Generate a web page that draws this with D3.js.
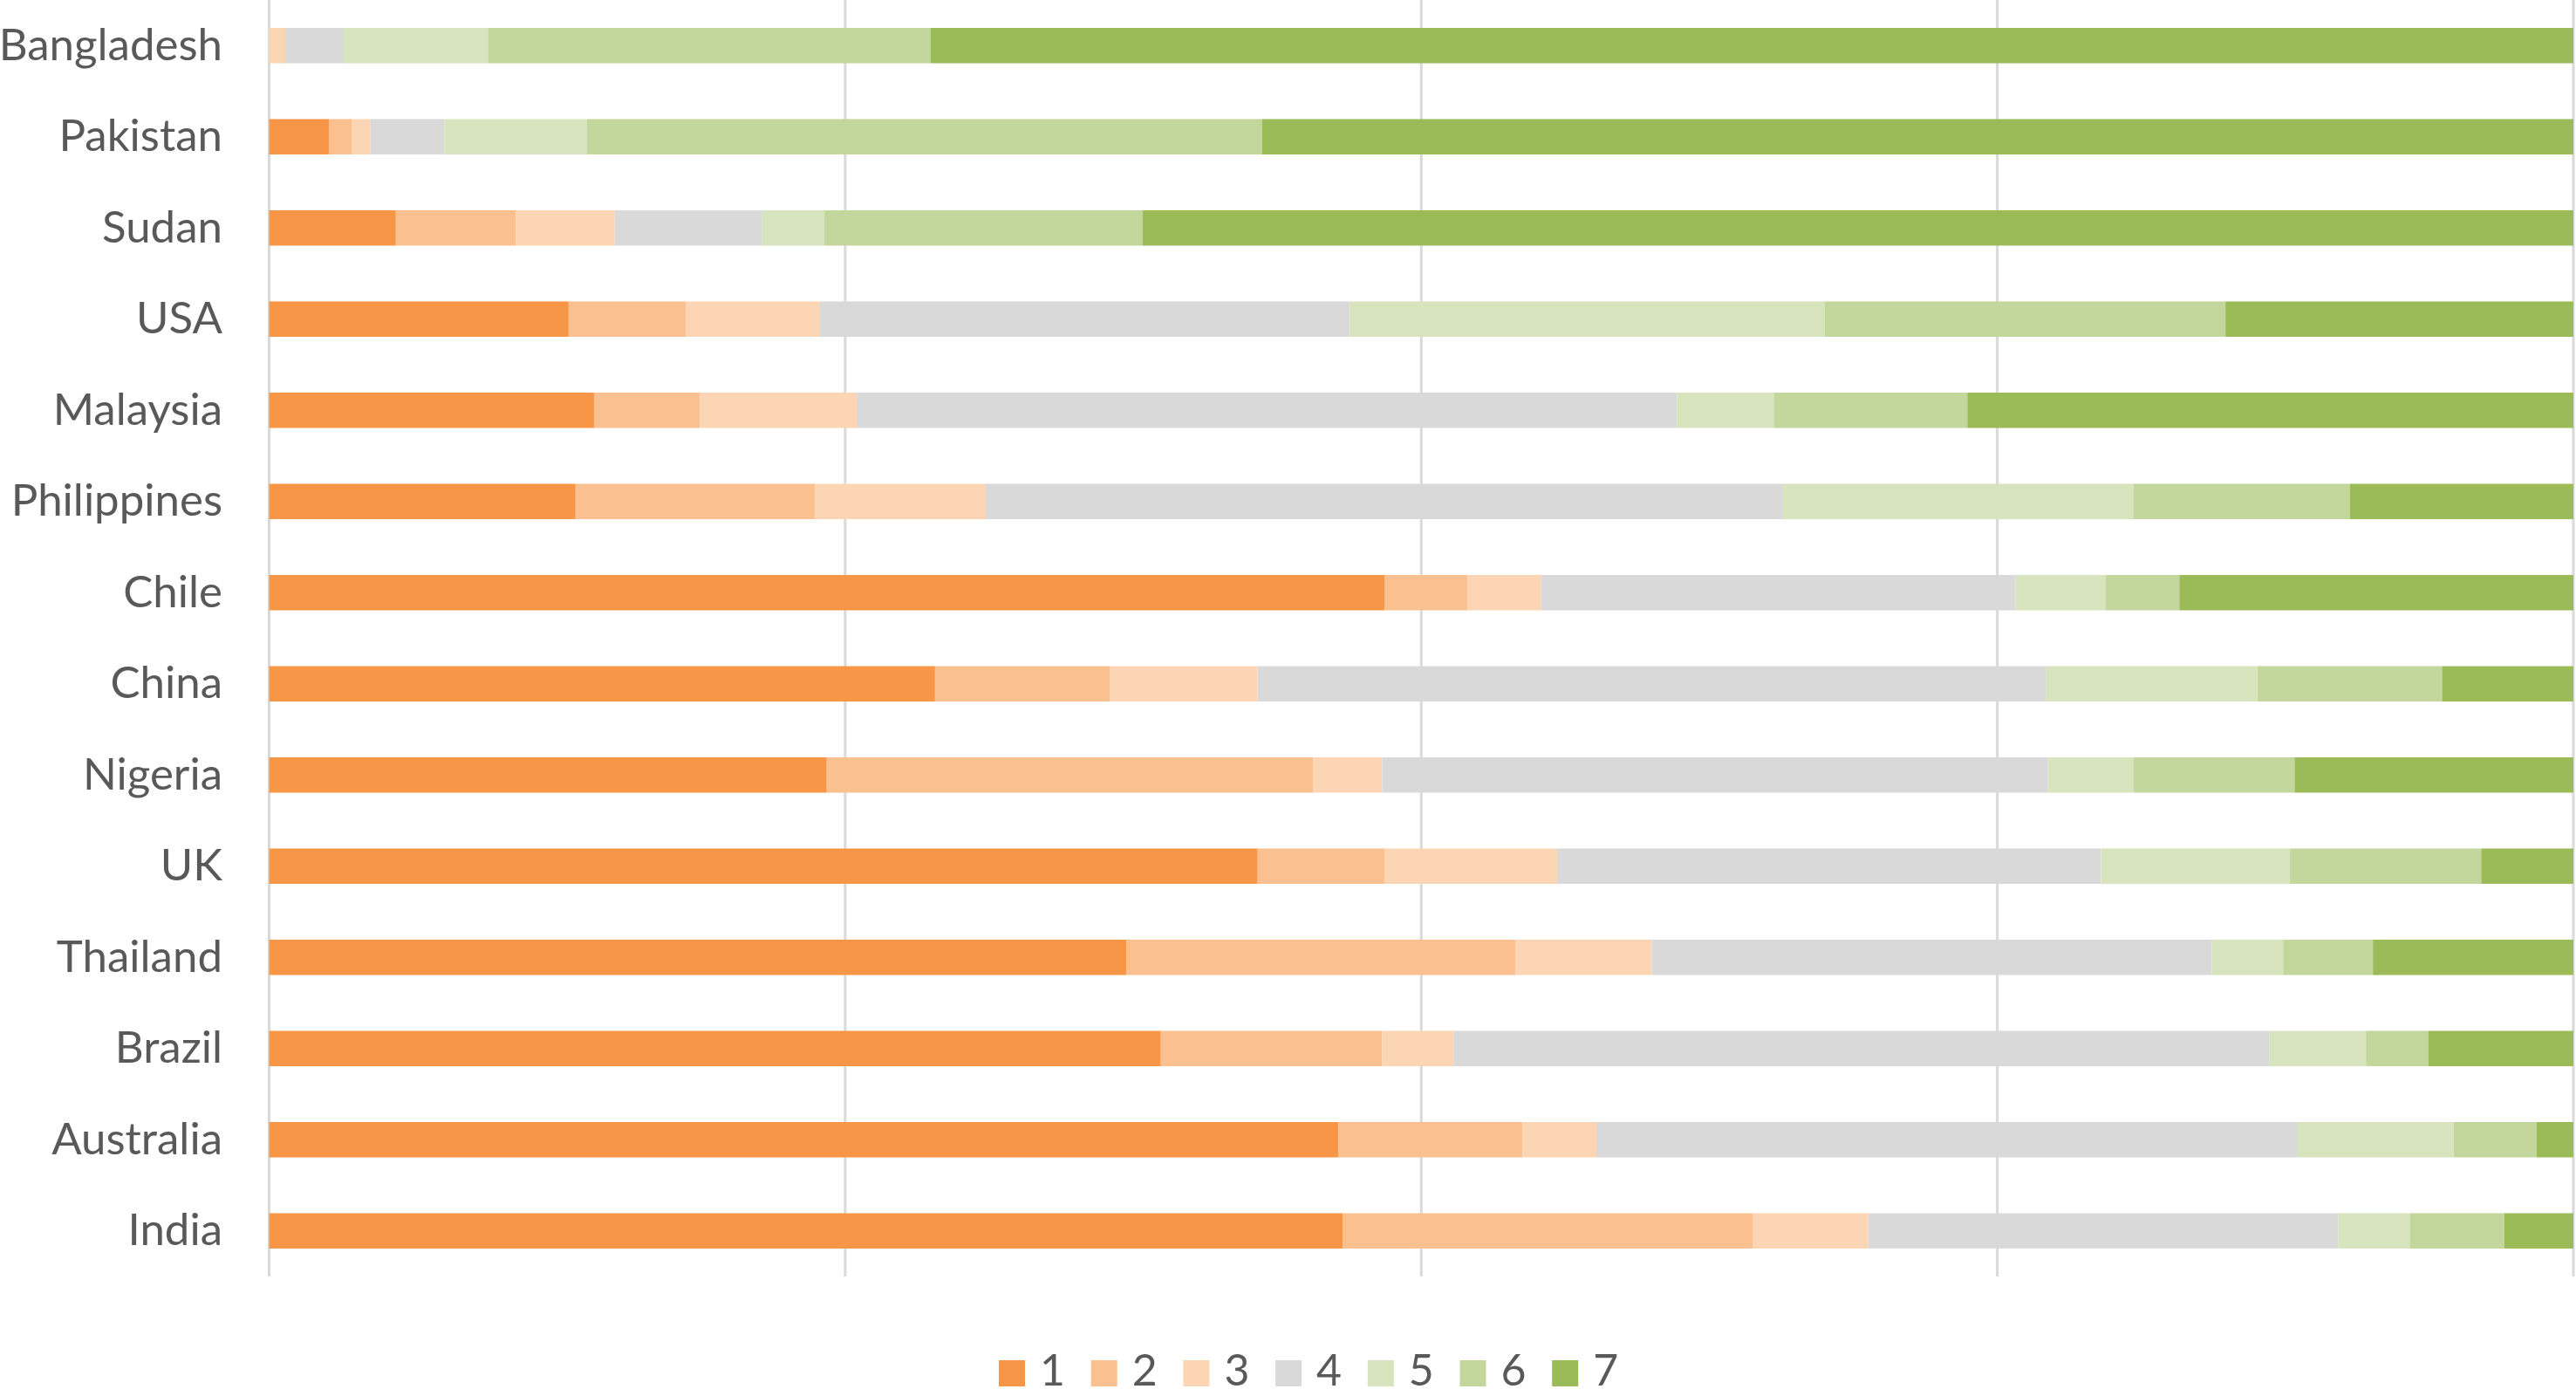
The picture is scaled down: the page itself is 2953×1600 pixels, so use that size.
<!DOCTYPE html>
<html>
<head>
<meta charset="utf-8">
<script src="https://cdn.jsdelivr.net/npm/d3@7"></script>
<style>
  html, body { margin: 0; padding: 0; background: #ffffff; }
  svg { display: block; }
  text { font-family: Lato, "Liberation Sans", sans-serif; fill: #595959; }
</style>
</head>
<body>
<svg id="chart" width="2953" height="1600"></svg>
<script>
// ---- data (percent of respondents per answer 1..7) ----
const countries = ["Bangladesh","Pakistan","Sudan","USA","Malaysia","Philippines","Chile",
                   "China","Nigeria","UK","Thailand","Brazil","Australia","India"];
const seriesNames = ["1","2","3","4","5","6","7"];
const s1 = [0.0, 2.6, 5.5, 13.0, 14.1, 13.3, 48.4, 28.9, 24.2, 42.9, 37.2, 38.7, 46.4, 46.6];
const s2 = [0.0, 1.0, 5.2, 5.1, 4.6, 10.4, 3.6, 7.6, 21.1, 5.5, 16.9, 9.6, 8.0, 17.8];
const s3 = [0.7, 0.8, 4.3, 5.8, 6.8, 7.4, 3.2, 6.4, 3.0, 7.5, 5.9, 3.1, 3.2, 5.0];
const s4 = [2.5, 3.2, 6.4, 23.0, 35.6, 34.6, 20.6, 34.2, 28.9, 23.6, 24.3, 35.4, 30.4, 20.4];
const s5 = [6.3, 6.2, 2.7, 20.6, 4.2, 15.2, 3.9, 9.2, 3.7, 8.2, 3.1, 4.2, 6.8, 3.1];
const s6 = [19.2, 29.3, 13.8, 17.4, 8.4, 9.4, 3.2, 8.0, 7.0, 8.3, 3.9, 2.7, 3.6, 4.1];
const s7 = [71.3, 56.9, 62.1, 15.1, 26.3, 9.7, 17.1, 5.7, 12.1, 4.0, 8.7, 6.3, 1.6, 3.0];
const xTicks = [0, 25, 50, 75, 100];

// ---- styling ----
const colors = ["#F79646","#FAC090","#FCD5B5","#D9D9D9","#D7E4BD","#C3D69B","#9BBB59"];

const allSeries = [s1, s2, s3, s4, s5, s6, s7];
const rows = countries.map((c, i) => {
  const r = { country: c };
  seriesNames.forEach((k, j) => { r[k] = allSeries[j][i]; });
  return r;
});

const svg = d3.select("#chart");
const plot = { left: 308.5, right: 2950, top: 0, bottom: 1463 };

const x = d3.scaleLinear().domain([0, 100]).range([plot.left, plot.right]);
const y = d3.scaleBand().domain(countries).range([plot.top, plot.bottom])
  .paddingInner(0.6124).paddingOuter(0.3062);

// gridlines (including the vertical axis line at 0)
svg.append("g").selectAll("line").data(xTicks).join("line")
  .attr("x1", d => x(d)).attr("x2", d => x(d))
  .attr("y1", plot.top).attr("y2", plot.bottom)
  .attr("stroke", "#D9D9D9").attr("stroke-width", 3);

// stacked bars
const stack = d3.stack().keys(seriesNames);
const layers = stack(rows);
svg.append("g").selectAll("g").data(layers).join("g")
  .attr("fill", (d, i) => colors[i])
  .selectAll("rect").data(d => d).join("rect")
  .attr("x", d => x(d[0]))
  .attr("width", d => Math.max(0, x(d[1]) - x(d[0])))
  .attr("y", d => y(d.data.country))
  .attr("height", y.bandwidth());

// category labels
const yAxis = d3.axisLeft(y).tickSize(0).tickPadding(0);
const yg = svg.append("g").attr("transform", "translate(255,0)").call(yAxis);
yg.select(".domain").remove();
yg.selectAll("text")
  .attr("font-size", 51)
  .attr("fill", "#595959")
  .attr("dy", null)
  .attr("dominant-baseline", "auto")
  .attr("y", 16.5)
  .style("font-family", "Lato, 'Liberation Sans', sans-serif");

// legend
const legendStart = 1145, legendStep = 105.7;
const lg = svg.append("g").selectAll("g").data(seriesNames).join("g")
  .attr("transform", (d, i) => `translate(${legendStart + i * legendStep},0)`);
lg.append("rect").attr("x", 0).attr("y", 1559).attr("width", 30).attr("height", 30)
  .attr("fill", (d, i) => colors[i]);
lg.append("text").attr("x", 47).attr("y", 1588).attr("font-size", 50).text(d => d);
</script>
</body>
</html>
